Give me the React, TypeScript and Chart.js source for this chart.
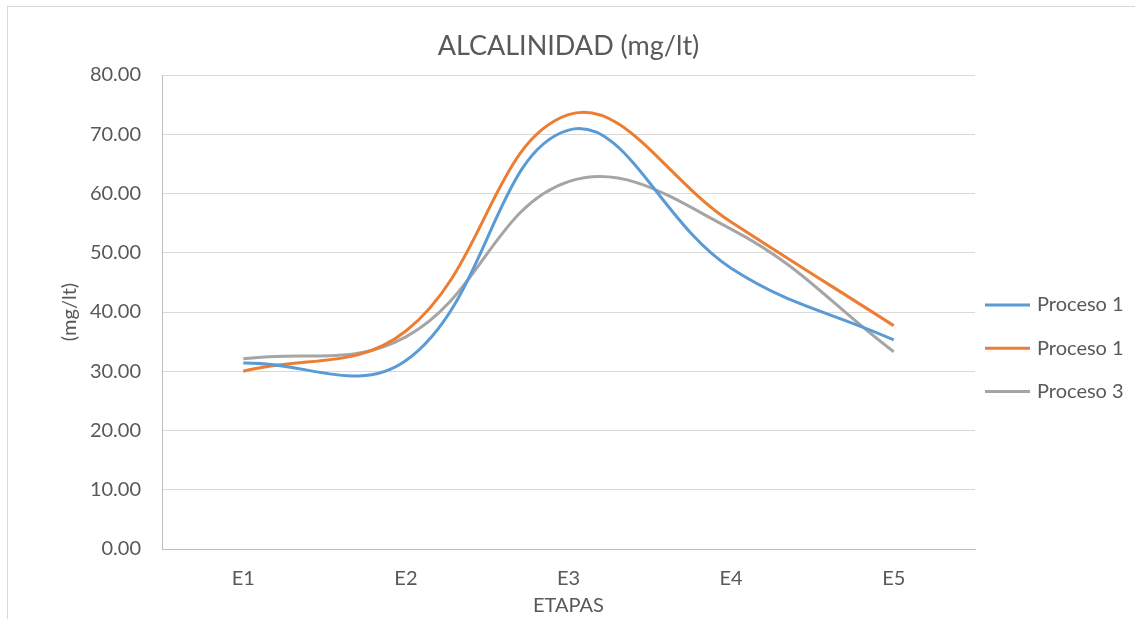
import React, { useEffect, useRef } from "react";
import { Chart, registerables } from "chart.js";

Chart.register(...registerables);

const categories = ["E1", "E2", "E3", "E4", "E5"];
const proceso1a = [31.4, 31.8, 70.7, 47.4, 35.3];
const proceso1b = [30.0, 36.8, 73.3, 55.2, 37.7];
const proceso3 = [32.1, 35.8, 62.0, 54.0, 33.3];
const seriesLabels = ["Proceso 1", "Proceso 1", "Proceso 3"];
const seriesColors = ["#5B9BD5", "#ED7D31", "#A5A5A5"];
const yMin = 0;
const yMax = 80;
const yStep = 10;
const chartTitle = "ALCALINIDAD (mg/lt)";
const xTitle = "ETAPAS";
const yTitle = "(mg/lt)";

const FONT = "Lato, 'Noto Sans', sans-serif";
const TEXT = "#595959";

const legendPlugin = {
  id: "customLegend",
  afterDraw(chart: any) {
    const { ctx, chartArea } = chart;
    const rows = [305, 348.3, 391.6];
    ctx.save();
    chart.data.datasets.forEach((ds: any, i: number) => {
      const y = rows[i];
      const x0 = chartArea.right + 10;
      ctx.strokeStyle = ds.borderColor;
      ctx.lineWidth = 3;
      ctx.lineCap = "butt";
      ctx.beginPath();
      ctx.moveTo(x0, y);
      ctx.lineTo(x0 + 45, y);
      ctx.stroke();
      ctx.fillStyle = TEXT;
      ctx.font = `20px ${FONT}`;
      ctx.textBaseline = "middle";
      ctx.textAlign = "left";
      ctx.fillText(ds.label, x0 + 52, y);
    });
    ctx.restore();
  },
};

export default function App() {
  const ref = useRef<HTMLCanvasElement>(null);

  useEffect(() => {
    if (!ref.current) return;
    const series = [proceso1a, proceso1b, proceso3];
    const chart = new Chart(ref.current, {
      type: "line",
      data: {
        labels: categories,
        datasets: series.map((data, i) => ({
          label: seriesLabels[i],
          data,
          borderColor: seriesColors[i],
          backgroundColor: seriesColors[i],
          borderWidth: 3,
          pointRadius: 0,
          pointHoverRadius: 0,
          tension: 0.4,
          fill: false,
        })),
      },
      options: {
        responsive: false,
        animation: false,
        devicePixelRatio: 1,
        layout: { padding: { left: 0, right: 160, top: 0, bottom: 0 } },
        plugins: {
          legend: { display: false },
          tooltip: { enabled: false },
          title: {
            display: true,
            text: chartTitle,
            fullSize: false,
            color: TEXT,
            font: { family: FONT, size: 27, weight: "normal" },
            padding: { top: 30, bottom: 12.6 },
          },
        },
        scales: {
          x: {
            offset: true,
            grid: { display: false, drawTicks: false },
            border: { display: true, color: "#BFBFBF", width: 1 },
            ticks: {
              color: TEXT,
              font: { family: FONT, size: 20 },
              padding: 18,
            },
            title: {
              display: true,
              text: xTitle,
              color: TEXT,
              font: { family: FONT, size: 20 },
              padding: { top: 0, bottom: 1 },
            },
            afterFit(scale: any) {
              scale.height = 70;
            },
          },
          y: {
            min: yMin,
            max: yMax,
            grid: { color: "#D9D9D9", lineWidth: 1, drawTicks: false },
            border: { display: true, color: "#BFBFBF", width: 1 },
            ticks: {
              stepSize: yStep,
              color: TEXT,
              font: { family: FONT, size: 20 },
              padding: 21,
              callback: (v: any) => Number(v).toFixed(2),
            },
            title: {
              display: true,
              text: yTitle,
              color: TEXT,
              font: { family: FONT, size: 20 },
              padding: { top: 58, bottom: 0 },
            },
            afterFit(scale: any) {
              scale.width = 162;
            },
          },
        },
      },
      plugins: [legendPlugin],
    });
    return () => chart.destroy();
  }, []);

  return (
    <div>
      <div
        style={{
          position: "fixed",
          left: 7,
          top: 6,
          width: 1300,
          height: 800,
          border: "1px solid #D9D9D9",
          boxSizing: "border-box",
          background: "#FFFFFF",
        }}
      />
      <canvas
        ref={ref}
        width={1135}
        height={619}
        style={{ position: "fixed", left: 0, top: 0, width: 1135, height: 619 }}
      />
    </div>
  );
}
